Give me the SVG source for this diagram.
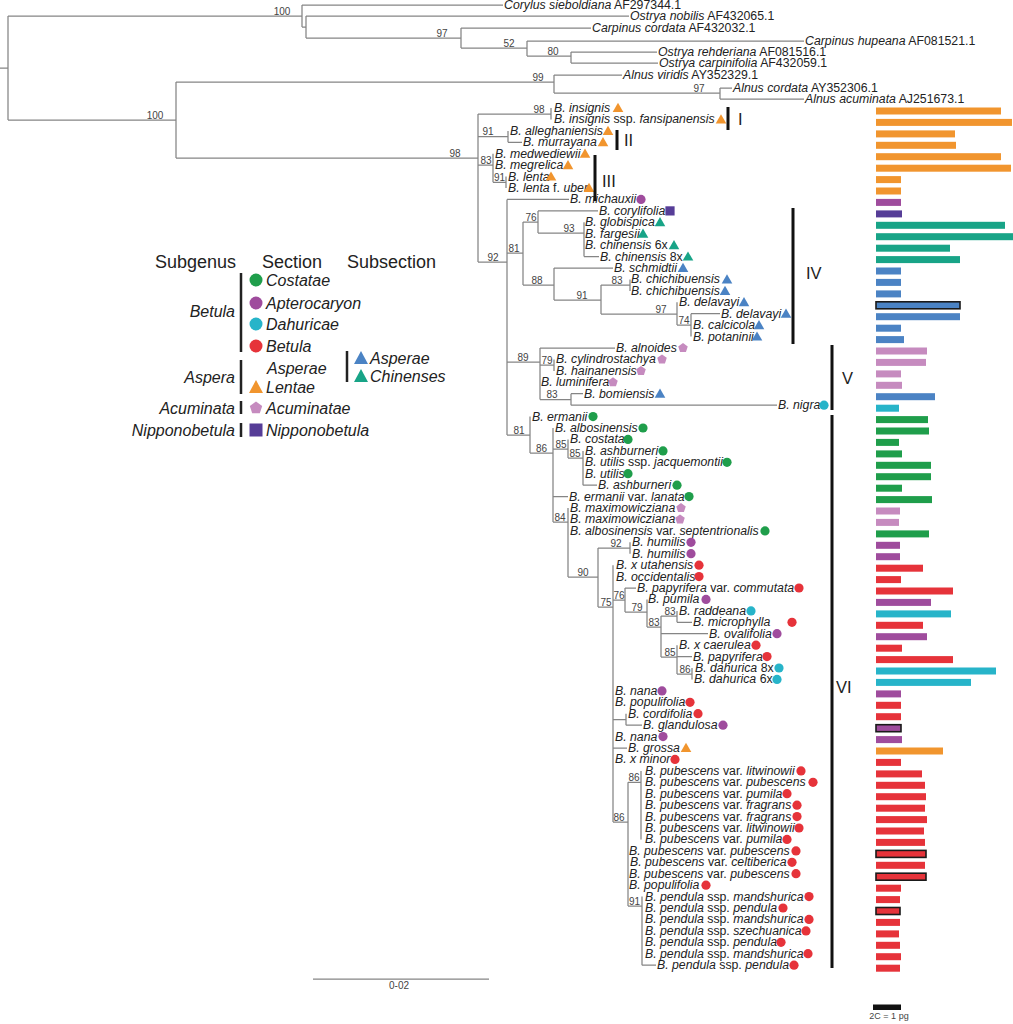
<svg xmlns="http://www.w3.org/2000/svg" xmlns:xlink="http://www.w3.org/1999/xlink" width="1013" height="1024" viewBox="0 0 1013 1024">
<style>
.br{fill:none;stroke:#858585;stroke-width:1.25}
.lb{font-family:"Liberation Sans",Arial,sans-serif;font-size:12.3px;font-style:italic;fill:#222}
.n{font-style:normal}
.bs{font-family:"Liberation Sans",Arial,sans-serif;font-size:10px;fill:#444;text-anchor:middle}
.cl{stroke:#111;stroke-width:3}
.cln{font-family:"Liberation Sans",Arial,sans-serif;font-size:16.5px;fill:#222}
.lg{font-family:"Liberation Sans",Arial,sans-serif;font-size:18px;fill:#222}
.li{font-family:"Liberation Sans",Arial,sans-serif;font-size:16px;font-style:italic;fill:#222}
.ra{text-anchor:end}
.g{fill:#1f9e4b}.p{fill:#9f4c9d}.c{fill:#27b4c9}.r{fill:#e6333a}.o{fill:#f1952e}
.b{fill:#4b83c4}.tl{fill:#18a487}.k{fill:#c68bbf}.d{fill:#563d97}
.ol{stroke:#1a1a1a;stroke-width:1.6}
</style>
<defs>
<circle id="ci" r="4.6"/>
<path id="tri" d="M0,-5.2 L5.3,4 L-5.3,4Z"/>
<path id="pen" d="M0,-5 L4.76,-1.55 L2.94,4.05 L-2.94,4.05 L-4.76,-1.55Z"/>
<rect id="sq" x="-4.6" y="-4.6" width="9.2" height="9.2"/>
</defs>
<rect width="1013" height="1024" fill="#fff"/>

<g id="connectors" class="br">
<path d="M0 68H8M8 16V120M8 16H302M302 5V27M302 5H503M302 27H306M306 16V38M306 16H629M306 38H461M461 28V48M461 28H591M461 48H527M527 41V56M527 41H804M527 56H571M571 52V63M571 52H657M571 63H658M8 120H176M176 82V158M176 82H554M554 75V93M554 75H622M554 93H720M720 88V99M720 88H732M720 99H804M176 158H478"/>
<path d="M478 114V262M478 114H551M551 108V119.4M478 136.6H508M508 130.9V142.3M508 142.3H522M478 165H493M493 153.7V182.3M493 182.3H506M506 176.6V188M478 262H507M507 199.4V435M507 199.4H569"/>
<path d="M507 253H523M523 222V285M523 222H538M538 210.9V233M538 210.9H598M538 233H584M584 222.3V256.6M584 256.6H599M523 285H554M554 268V300M554 268H613M554 300H601M601 285V314M601 285H630M630 279.4V290.9M601 314H677M677 302.3V325M677 325H691M691 313.7V336.6M691 313.7H720"/>
<path d="M507 362H540M540 348V399.5M540 348H615M540 365H554M554 359.4V370.9M540 399.5H571M571 393.7V405.2M571 393.7H583M571 405.2H777"/>
<path d="M507 435H530M530 416.6V453M530 453H553M553 428V522M553 449H568M568 439.4V458M568 458H583M583 450.9V485.2M583 485.2H597M553 496.6H568M553 522H568M568 508V577M568 577H598M598 548V607M598 548H630M630 542.3V553.7M598 607H613M613 565.2V822"/>
<path d="M613 600H625M625 588V612M625 588H636M625 612H647M647 599.4V627M647 627H661M661 616V657M661 616H677M677 610.9V622.3M677 622.3H692M661 633.7H708M661 657H677M677 645.2V674M677 656.6H692M677 674H692M692 668V679.4"/>
<path d="M613 719.5H626M626 713.7V725.2M626 725.2H642M613 748H627M613 822H628M628 782.3V906M628 782.3H641M641 770.9V839.4M628 906H642M642 896.6V965.2M642 965.2H656"/>
<path d="M313 979H489"/>
</g>

<g id="support">
<text class="bs" x="282" y="14.5">100</text>
<text class="bs" x="442" y="36.5">97</text>
<text class="bs" x="509" y="46.5">52</text>
<text class="bs" x="553" y="54.5">80</text>
<text class="bs" x="155" y="118.5">100</text>
<text class="bs" x="538" y="80.5">99</text>
<text class="bs" x="699" y="91.5">97</text>
<text class="bs" x="455" y="156.5">98</text>
<text class="bs" x="539" y="112.5">98</text>
<text class="bs" x="488" y="135">91</text>
<text class="bs" x="486" y="163.5">83</text>
<text class="bs" x="499.5" y="181">91</text>
<text class="bs" x="493" y="260.5">92</text>
<text class="bs" x="514" y="251.5">81</text>
<text class="bs" x="531" y="220.5">76</text>
<text class="bs" x="569" y="231.5">93</text>
<text class="bs" x="537" y="283.5">88</text>
<text class="bs" x="582" y="298.5">91</text>
<text class="bs" x="617" y="283.5">83</text>
<text class="bs" x="661" y="312.5">97</text>
<text class="bs" x="684" y="323.5">74</text>
<text class="bs" x="523" y="360.5">89</text>
<text class="bs" x="547" y="363.5">79</text>
<text class="bs" x="552" y="398">83</text>
<text class="bs" x="519" y="433.5">81</text>
<text class="bs" x="541.5" y="451.5">86</text>
<text class="bs" x="561" y="447.5">85</text>
<text class="bs" x="575" y="456.5">85</text>
<text class="bs" x="560" y="520.5">84</text>
<text class="bs" x="583" y="575.5">90</text>
<text class="bs" x="616" y="546.5">92</text>
<text class="bs" x="606" y="605.5">75</text>
<text class="bs" x="619" y="598.5">76</text>
<text class="bs" x="637" y="610.5">79</text>
<text class="bs" x="654" y="625.5">83</text>
<text class="bs" x="670" y="614.5">83</text>
<text class="bs" x="670" y="655.5">85</text>
<text class="bs" x="685" y="672.5">86</text>
<text class="bs" x="634" y="780.5">86</text>
<text class="bs" x="619" y="820.5">86</text>
<text class="bs" x="634.5" y="904.5">91</text>
</g>

<g id="outgroup">
<g id="og-corylus"><text class="lb" x="504" y="9">Corylus sieboldiana<tspan class="n"> AF297344.1</tspan></text></g>
<g id="og-ostrya-nobilis"><text class="lb" x="630" y="20">Ostrya nobilis<tspan class="n"> AF432065.1</tspan></text></g>
<g id="og-carpinus-cordata"><text class="lb" x="592" y="32">Carpinus cordata<tspan class="n"> AF432032.1</tspan></text></g>
<g id="og-carpinus-hupeana"><text class="lb" x="805" y="45">Carpinus hupeana<tspan class="n"> AF081521.1</tspan></text></g>
<g id="og-ostrya-rehderiana"><text class="lb" x="658" y="56">Ostrya rehderiana<tspan class="n"> AF081516.1</tspan></text></g>
<g id="og-ostrya-carpinifolia"><text class="lb" x="659" y="67">Ostrya carpinifolia<tspan class="n"> AF432059.1</tspan></text></g>
<g id="og-alnus-viridis"><text class="lb" x="623" y="79">Alnus viridis<tspan class="n"> AY352329.1</tspan></text></g>
<g id="og-alnus-cordata"><text class="lb" x="733" y="92">Alnus cordata<tspan class="n"> AY352306.1</tspan></text></g>
<g id="og-alnus-acuminata"><text class="lb" x="805" y="103">Alnus acuminata<tspan class="n"> AJ251673.1</tspan></text></g>
</g>

<g id="tips">
<g id="tip01"><text class="lb" x="554" y="112">B. insignis</text><use href="#tri" x="618" y="108" class="o"/><rect x="876" y="107.5" width="125" height="7" class="o"/></g>
<g id="tip02"><text class="lb" x="554" y="123.4">B. insignis<tspan class="n"> ssp. </tspan>fansipanensis</text><use href="#tri" x="721" y="119.4" class="o"/><rect x="876" y="118.9" width="136" height="7" class="o"/></g>
<g id="tip03"><text class="lb" x="510" y="134.9">B. alleghaniensis</text><use href="#tri" x="608" y="130.9" class="o"/><rect x="876" y="130.4" width="79" height="7" class="o"/></g>
<g id="tip04"><text class="lb" x="523" y="146.3">B. murrayana</text><use href="#tri" x="603" y="142.3" class="o"/><rect x="876" y="141.8" width="80" height="7" class="o"/></g>
<g id="tip05"><text class="lb" x="495" y="157.7">B. medwediewii</text><use href="#tri" x="585" y="153.7" class="o"/><rect x="876" y="153.2" width="125" height="7" class="o"/></g>
<g id="tip06"><text class="lb" x="495" y="169.2">B. megrelica</text><use href="#tri" x="568" y="165.2" class="o"/><rect x="876" y="164.7" width="135" height="7" class="o"/></g>
<g id="tip07"><text class="lb" x="508" y="180.6">B. lenta</text><use href="#tri" x="551" y="176.6" class="o"/><rect x="876" y="176.1" width="25" height="7" class="o"/></g>
<g id="tip08"><text class="lb" x="508" y="192">B. lenta<tspan class="n"> f. </tspan>uber</text><use href="#tri" x="589" y="188" class="o"/><rect x="876" y="187.5" width="25" height="7" class="o"/></g>
<g id="tip09"><text class="lb" x="570" y="203.4">B. michauxii</text><use href="#ci" x="641" y="199.4" class="p"/><rect x="876" y="198.9" width="25" height="7" class="p"/></g>
<g id="tip10"><text class="lb" x="599" y="214.9">B. corylifolia</text><use href="#sq" x="670" y="210.9" class="d"/><rect x="876" y="210.4" width="26" height="7" class="d"/></g>
<g id="tip11"><text class="lb" x="585" y="226.3">B. globispica</text><use href="#tri" x="660" y="222.3" class="tl"/><rect x="876" y="221.8" width="129" height="7" class="tl"/></g>
<g id="tip12"><text class="lb" x="585" y="237.7">B. fargesii</text><use href="#tri" x="643" y="233.7" class="tl"/><rect x="876" y="233.2" width="137" height="7" class="tl"/></g>
<g id="tip13"><text class="lb" x="585" y="249.2">B. chinensis<tspan class="n"> 6x</tspan></text><use href="#tri" x="674" y="245.2" class="tl"/><rect x="876" y="244.7" width="74" height="7" class="tl"/></g>
<g id="tip14"><text class="lb" x="600" y="260.6">B. chinensis<tspan class="n"> 8x</tspan></text><use href="#tri" x="688" y="256.6" class="tl"/><rect x="876" y="256.1" width="84" height="7" class="tl"/></g>
<g id="tip15"><text class="lb" x="614" y="272">B. schmidtii</text><use href="#tri" x="683" y="268" class="b"/><rect x="876" y="267.5" width="25" height="7" class="b"/></g>
<g id="tip16"><text class="lb" x="631" y="283.4">B. chichibuensis</text><use href="#tri" x="727" y="279.4" class="b"/><rect x="876" y="278.9" width="25" height="7" class="b"/></g>
<g id="tip17"><text class="lb" x="631" y="294.9">B. chichibuensis</text><use href="#tri" x="725" y="290.9" class="b"/><rect x="876" y="290.4" width="25" height="7" class="b"/></g>
<g id="tip18"><text class="lb" x="679" y="306.3">B. delavayi</text><use href="#tri" x="744" y="302.3" class="b"/><rect x="876" y="301.8" width="84" height="7" class="b ol"/></g>
<g id="tip19"><text class="lb" x="721" y="317.7">B. delavayi</text><use href="#tri" x="786" y="313.7" class="b"/><rect x="876" y="313.2" width="84" height="7" class="b"/></g>
<g id="tip20"><text class="lb" x="693" y="329.2">B. calcicola</text><use href="#tri" x="759" y="325.2" class="b"/><rect x="876" y="324.7" width="25" height="7" class="b"/></g>
<g id="tip21"><text class="lb" x="693" y="340.6">B. potaninii</text><use href="#tri" x="757" y="336.6" class="b"/><rect x="876" y="336.1" width="28" height="7" class="b"/></g>
<g id="tip22"><text class="lb" x="616" y="352">B. alnoides</text><use href="#pen" x="683" y="348" class="k"/><rect x="876" y="347.5" width="51" height="7" class="k"/></g>
<g id="tip23"><text class="lb" x="556" y="363.4">B. cylindrostachya</text><use href="#pen" x="662" y="359.4" class="k"/><rect x="876" y="358.9" width="50" height="7" class="k"/></g>
<g id="tip24"><text class="lb" x="556" y="374.9">B. hainanensis</text><use href="#pen" x="641" y="370.9" class="k"/><rect x="876" y="370.4" width="25" height="7" class="k"/></g>
<g id="tip25"><text class="lb" x="541" y="386.3">B. luminifera</text><use href="#pen" x="613" y="382.3" class="k"/><rect x="876" y="381.8" width="26" height="7" class="k"/></g>
<g id="tip26"><text class="lb" x="584" y="397.7">B. bomiensis</text><use href="#tri" x="660" y="393.7" class="b"/><rect x="876" y="393.2" width="59" height="7" class="b"/></g>
<g id="tip27"><text class="lb" x="778" y="409.2">B. nigra</text><use href="#ci" x="824" y="405.2" class="c"/><rect x="876" y="404.7" width="23" height="7" class="c"/></g>
<g id="tip28"><text class="lb" x="532" y="420.6">B. ermanii</text><use href="#ci" x="593" y="416.6" class="g"/><rect x="876" y="416.1" width="52" height="7" class="g"/></g>
<g id="tip29"><text class="lb" x="555" y="432">B. albosinensis</text><use href="#ci" x="643" y="428" class="g"/><rect x="876" y="427.5" width="53" height="7" class="g"/></g>
<g id="tip30"><text class="lb" x="570" y="443.4">B. costata</text><use href="#ci" x="628" y="439.4" class="g"/><rect x="876" y="438.9" width="23" height="7" class="g"/></g>
<g id="tip31"><text class="lb" x="585" y="454.9">B. ashburneri</text><use href="#ci" x="663" y="450.9" class="g"/><rect x="876" y="450.4" width="26" height="7" class="g"/></g>
<g id="tip32"><text class="lb" x="585" y="466.3">B. utilis<tspan class="n"> ssp. </tspan>jacquemontii</text><use href="#ci" x="727" y="462.3" class="g"/><rect x="876" y="461.8" width="55" height="7" class="g"/></g>
<g id="tip33"><text class="lb" x="585" y="477.7">B. utilis</text><use href="#ci" x="628" y="473.7" class="g"/><rect x="876" y="473.2" width="55" height="7" class="g"/></g>
<g id="tip34"><text class="lb" x="598" y="489.2">B. ashburneri</text><use href="#ci" x="677" y="485.2" class="g"/><rect x="876" y="484.7" width="26" height="7" class="g"/></g>
<g id="tip35"><text class="lb" x="569" y="500.6">B. ermanii<tspan class="n"> var. </tspan>lanata</text><use href="#ci" x="689" y="496.6" class="g"/><rect x="876" y="496.1" width="56" height="7" class="g"/></g>
<g id="tip36"><text class="lb" x="570" y="512">B. maximowicziana</text><use href="#pen" x="681" y="508" class="k"/><rect x="876" y="507.5" width="24" height="7" class="k"/></g>
<g id="tip37"><text class="lb" x="570" y="523.4">B. maximowicziana</text><use href="#pen" x="680" y="519.4" class="k"/><rect x="876" y="518.9" width="23" height="7" class="k"/></g>
<g id="tip38"><text class="lb" x="570" y="534.9">B. albosinensis<tspan class="n"> var. </tspan>septentrionalis</text><use href="#ci" x="765" y="530.9" class="g"/><rect x="876" y="530.4" width="53" height="7" class="g"/></g>
<g id="tip39"><text class="lb" x="632" y="546.3">B. humilis</text><use href="#ci" x="691" y="542.3" class="p"/><rect x="876" y="541.8" width="24" height="7" class="p"/></g>
<g id="tip40"><text class="lb" x="632" y="557.7">B. humilis</text><use href="#ci" x="691" y="553.7" class="p"/><rect x="876" y="553.2" width="24" height="7" class="p"/></g>
<g id="tip41"><text class="lb" x="616" y="569.2">B. x utahensis</text><use href="#ci" x="699" y="565.2" class="r"/><rect x="876" y="564.7" width="47" height="7" class="r"/></g>
<g id="tip42"><text class="lb" x="616" y="580.6">B. occidentalis</text><use href="#ci" x="699" y="576.6" class="r"/><rect x="876" y="576.1" width="25" height="7" class="r"/></g>
<g id="tip43"><text class="lb" x="637" y="592">B. papyrifera<tspan class="n"> var. </tspan>commutata</text><use href="#ci" x="799" y="588" class="r"/><rect x="876" y="587.5" width="77" height="7" class="r"/></g>
<g id="tip44"><text class="lb" x="648" y="603.4">B. pumila</text><use href="#ci" x="706" y="599.4" class="p"/><rect x="876" y="598.9" width="55" height="7" class="p"/></g>
<g id="tip45"><text class="lb" x="679" y="614.9">B. raddeana</text><use href="#ci" x="751" y="610.9" class="c"/><rect x="876" y="610.4" width="75" height="7" class="c"/></g>
<g id="tip46"><text class="lb" x="693" y="626.3">B. microphylla</text><use href="#ci" x="792" y="622.3" class="r"/><rect x="876" y="621.8" width="47" height="7" class="r"/></g>
<g id="tip47"><text class="lb" x="709" y="637.7">B. ovalifolia</text><use href="#ci" x="777" y="633.7" class="p"/><rect x="876" y="633.2" width="51" height="7" class="p"/></g>
<g id="tip48"><text class="lb" x="679" y="649.2">B. x caerulea</text><use href="#ci" x="756" y="645.2" class="r"/><rect x="876" y="644.7" width="26" height="7" class="r"/></g>
<g id="tip49"><text class="lb" x="693" y="660.6">B. papyrifera</text><use href="#ci" x="767" y="656.6" class="r"/><rect x="876" y="656.1" width="77" height="7" class="r"/></g>
<g id="tip50"><text class="lb" x="695" y="672">B. dahurica<tspan class="n"> 8x</tspan></text><use href="#ci" x="779" y="668" class="c"/><rect x="876" y="667.5" width="120" height="7" class="c"/></g>
<g id="tip51"><text class="lb" x="694" y="683.4">B. dahurica<tspan class="n"> 6x</tspan></text><use href="#ci" x="777" y="679.4" class="c"/><rect x="876" y="678.9" width="95" height="7" class="c"/></g>
<g id="tip52"><text class="lb" x="615" y="694.9">B. nana</text><use href="#ci" x="662" y="690.9" class="p"/><rect x="876" y="690.4" width="25" height="7" class="p"/></g>
<g id="tip53"><text class="lb" x="615" y="706.3">B. populifolia</text><use href="#ci" x="690" y="702.3" class="r"/><rect x="876" y="701.8" width="25" height="7" class="r"/></g>
<g id="tip54"><text class="lb" x="628" y="717.7">B. cordifolia</text><use href="#ci" x="698" y="713.7" class="r"/><rect x="876" y="713.2" width="25" height="7" class="r"/></g>
<g id="tip55"><text class="lb" x="643" y="729.2">B. glandulosa</text><use href="#ci" x="723" y="725.2" class="p"/><rect x="876" y="724.7" width="25" height="7" class="p ol"/></g>
<g id="tip56"><text class="lb" x="615" y="740.6">B. nana</text><use href="#ci" x="663" y="736.6" class="p"/><rect x="876" y="736.1" width="26" height="7" class="p"/></g>
<g id="tip57"><text class="lb" x="628" y="752">B. grossa</text><use href="#tri" x="686" y="748" class="o"/><rect x="876" y="747.5" width="67" height="7" class="o"/></g>
<g id="tip58"><text class="lb" x="615" y="763.4">B. x minor</text><use href="#ci" x="675" y="759.4" class="r"/><rect x="876" y="758.9" width="25" height="7" class="r"/></g>
<g id="tip59"><text class="lb" x="645" y="774.9">B. pubescens<tspan class="n"> var. </tspan>litwinowii</text><use href="#ci" x="801" y="770.9" class="r"/><rect x="876" y="770.4" width="46" height="7" class="r"/></g>
<g id="tip60"><text class="lb" x="645" y="786.3">B. pubescens<tspan class="n"> var. </tspan>pubescens</text><use href="#ci" x="813" y="782.3" class="r"/><rect x="876" y="781.8" width="49" height="7" class="r"/></g>
<g id="tip61"><text class="lb" x="645" y="797.7">B. pubescens<tspan class="n"> var. </tspan>pumila</text><use href="#ci" x="787" y="793.7" class="r"/><rect x="876" y="793.2" width="50" height="7" class="r"/></g>
<g id="tip62"><text class="lb" x="645" y="809.2">B. pubescens<tspan class="n"> var. </tspan>fragrans</text><use href="#ci" x="797" y="805.2" class="r"/><rect x="876" y="804.7" width="49" height="7" class="r"/></g>
<g id="tip63"><text class="lb" x="645" y="820.6">B. pubescens<tspan class="n"> var. </tspan>fragrans</text><use href="#ci" x="797" y="816.6" class="r"/><rect x="876" y="816.1" width="51" height="7" class="r"/></g>
<g id="tip64"><text class="lb" x="645" y="832">B. pubescens<tspan class="n"> var. </tspan>litwinowii</text><use href="#ci" x="799" y="828" class="r"/><rect x="876" y="827.5" width="48" height="7" class="r"/></g>
<g id="tip65"><text class="lb" x="645" y="843.4">B. pubescens<tspan class="n"> var. </tspan>pumila</text><use href="#ci" x="787" y="839.4" class="r"/><rect x="876" y="838.9" width="49" height="7" class="r"/></g>
<g id="tip66"><text class="lb" x="629" y="854.9">B. pubescens<tspan class="n"> var. </tspan>pubescens</text><use href="#ci" x="796" y="850.9" class="r"/><rect x="876" y="850.4" width="50" height="7" class="r ol"/></g>
<g id="tip67"><text class="lb" x="630" y="866.3">B. pubescens<tspan class="n"> var. </tspan>celtiberica</text><use href="#ci" x="792" y="862.3" class="r"/><rect x="876" y="861.8" width="49" height="7" class="r"/></g>
<g id="tip68"><text class="lb" x="629" y="877.7">B. pubescens<tspan class="n"> var. </tspan>pubescens</text><use href="#ci" x="796" y="873.7" class="r"/><rect x="876" y="873.2" width="50" height="7" class="r ol"/></g>
<g id="tip69"><text class="lb" x="629" y="889.2">B. populifolia</text><use href="#ci" x="706" y="885.2" class="r"/><rect x="876" y="884.7" width="25" height="7" class="r"/></g>
<g id="tip70"><text class="lb" x="645" y="900.6">B. pendula<tspan class="n"> ssp. </tspan>mandshurica</text><use href="#ci" x="809" y="896.6" class="r"/><rect x="876" y="896.1" width="24" height="7" class="r"/></g>
<g id="tip71"><text class="lb" x="645" y="912">B. pendula<tspan class="n"> ssp. </tspan>pendula</text><use href="#ci" x="783" y="908" class="r"/><rect x="876" y="907.5" width="24" height="7" class="r ol"/></g>
<g id="tip72"><text class="lb" x="645" y="923.4">B. pendula<tspan class="n"> ssp. </tspan>mandshurica</text><use href="#ci" x="809" y="919.4" class="r"/><rect x="876" y="918.9" width="24" height="7" class="r"/></g>
<g id="tip73"><text class="lb" x="645" y="934.9">B. pendula<tspan class="n"> ssp. </tspan>szechuanica</text><use href="#ci" x="806" y="930.9" class="r"/><rect x="876" y="930.4" width="23" height="7" class="r"/></g>
<g id="tip74"><text class="lb" x="645" y="946.3">B. pendula<tspan class="n"> ssp. </tspan>pendula</text><use href="#ci" x="781" y="942.3" class="r"/><rect x="876" y="941.8" width="24" height="7" class="r"/></g>
<g id="tip75"><text class="lb" x="645" y="957.7">B. pendula<tspan class="n"> ssp. </tspan>mandshurica</text><use href="#ci" x="808" y="953.7" class="r"/><rect x="876" y="953.2" width="25" height="7" class="r"/></g>
<g id="tip76"><text class="lb" x="657" y="969.2">B. pendula<tspan class="n"> ssp. </tspan>pendula</text><use href="#ci" x="794" y="965.2" class="r"/><rect x="876" y="964.7" width="24" height="7" class="r"/></g>
</g>

<g id="clades">
<path class="cl" d="M728 107V130M617 130V150M595 155V201M793 208V344M832 345V410M832 415V968"/>
<text class="cln" x="738" y="125">I</text>
<text class="cln" x="624" y="146">II</text>
<text class="cln" x="602" y="187">III</text>
<text class="cln" x="806" y="279">IV</text>
<text class="cln" x="842" y="384">V</text>
<text class="cln" x="836" y="693">VI</text>
</g>

<g id="legend">
<text class="lg" x="155" y="268">Subgenus</text>
<text class="lg" x="262" y="268">Section</text>
<text class="lg" x="347" y="268">Subsection</text>
<path stroke="#222" stroke-width="2.5" d="M241 273V352M241 360V394M347 351V382M241 401V414M241 423V437"/>
<text class="li ra" x="235" y="317">Betula</text>
<text class="li ra" x="235" y="383">Aspera</text>
<text class="li ra" x="235" y="414">Acuminata</text>
<text class="li ra" x="235" y="436">Nipponobetula</text>
<circle cx="256" cy="280" r="6.5" class="g"/><text class="li" x="266" y="286">Costatae</text>
<circle cx="256" cy="303" r="6.5" class="p"/><text class="li" x="266" y="309">Apterocaryon</text>
<circle cx="256" cy="324" r="6.5" class="c"/><text class="li" x="266" y="330">Dahuricae</text>
<circle cx="256" cy="346" r="6.5" class="r"/><text class="li" x="266" y="352">Betula</text>
<text class="li" x="267" y="374">Asperae</text>
<path d="M256 380L263 393L249 393Z" class="o"/><text class="li" x="266" y="393">Lentae</text>
<path d="M361 351L368 364L354 364Z" class="b"/><text class="li" x="370" y="364">Asperae</text>
<path d="M361 369L368 382L354 382Z" class="tl"/><text class="li" x="370" y="382">Chinenses</text>
<path d="M256 401.5L262.2 406L259.8 413.3L252.2 413.3L249.8 406Z" class="k"/><text class="li" x="266" y="414">Acuminatae</text>
<rect x="249.5" y="423.5" width="13" height="13" class="d"/><text class="li" x="266" y="436">Nipponobetula</text>
</g>

<g id="scales">
<text class="bs" x="399" y="989">0-02</text>
<rect x="873" y="1004.5" width="28" height="5.5" fill="#111"/>
<text class="bs" x="889" y="1019" style="font-size:9px">2C = 1 pg</text>
</g>
</svg>
